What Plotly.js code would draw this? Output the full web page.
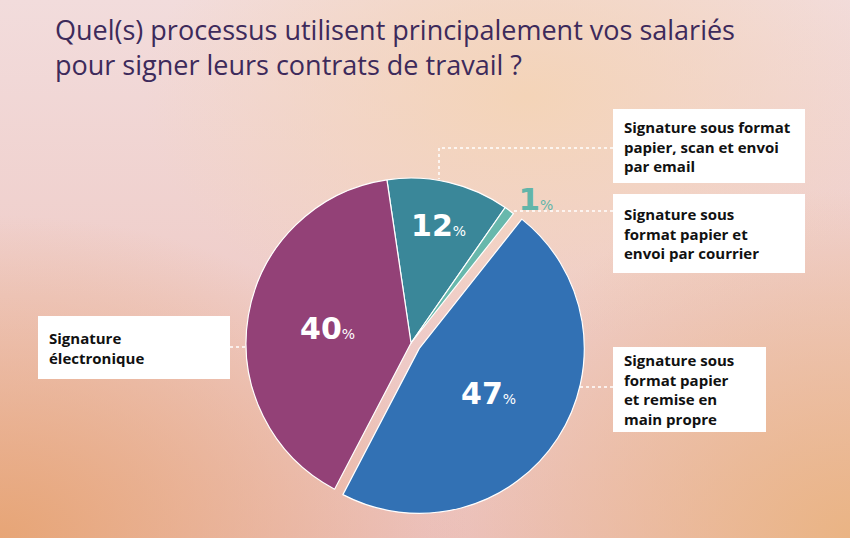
<!DOCTYPE html>
<html>
<head>
<meta charset="utf-8">
<script src="https://cdn.plot.ly/plotly-3.0.1.min.js"></script>
<style>
  html, body { margin: 0; padding: 0; }
  body {
    width: 850px; height: 538px; overflow: hidden;
    background:
      radial-gradient(ellipse 55% 60% at 0% 100%, rgba(231,165,118,1) 0%, rgba(231,165,118,0) 100%),
      radial-gradient(ellipse 50% 65% at 100% 100%, rgba(234,180,132,1) 0%, rgba(234,180,132,0) 100%),
      radial-gradient(ellipse 45% 45% at 62% 18%, rgba(244,212,184,1) 0%, rgba(244,212,184,0) 100%),
      linear-gradient(180deg, #f2dcdc 0%, #efcdc9 55%, #ecc2bf 100%);
  }
  #chart { width: 850px; height: 538px; }
</style>
</head>
<body>
<div id="chart"></div>
<script>
// ---- data ----
const categories = [
  "Signature sous format papier, scan et envoi par email",
  "Signature sous format papier et envoi par courrier",
  "Signature sous format papier et remise en main propre",
  "Signature électronique"
];
const values = [12, 1, 47, 40];
const boxLabels = [
  "Signature sous format<br>papier, scan et envoi<br>par email",
  "Signature sous<br>format papier et<br>envoi par courrier",
  "Signature sous<br>format papier<br>et remise en<br>main propre",
  "Signature<br>électronique"
];
const sliceColors = ["#3a8799", "#68b8ac", "#3271b4", "#934177"];
const pulls = [0, 0, 0.06, 0];
const textPositions = ["inside", "outside", "inside", "inside"];

// ---- helpers (pixel -> paper, margins are zero) ----
const W = 850, H = 538;
const px = x => x / W;
const py = y => 1 - y / H;

const pctFont = "'DejaVu Sans', 'Open Sans', sans-serif";
const labelFont = "'Open Sans', Lato, sans-serif";

const trace = {
  type: "pie",
  labels: categories,
  values: values,
  sort: false,
  direction: "clockwise",
  rotation: -8.4,
  pull: pulls,
  marker: { colors: sliceColors, line: { color: "#ffffff", width: 1.2 } },
  domain: { x: [0.2778, 0.6893], y: [0.0374, 0.6875] },
  texttemplate: '%{value}<span style="font-size:14px;font-weight:400">%</span>',
  textposition: textPositions,
  insidetextorientation: "horizontal",
  insidetextfont: { family: pctFont, size: 30, color: "#ffffff", weight: 700 },
  outsidetextfont: { family: pctFont, size: 31, color: "#62b5a9", weight: 700 },
  hoverinfo: "none",
  showlegend: false
};

// label boxes [x0, y0, x1, y1] in pixels, and text anchor
const boxes = [
  [613, 109, 805, 183],
  [613, 194, 805, 273],
  [613, 347, 766, 432],
  [38, 316, 230, 379]
];
const textX = [622, 622, 622, 47];

const shapes = [];
const annotations = [];
boxes.forEach((b, i) => {
  shapes.push({
    type: "rect", xref: "paper", yref: "paper",
    x0: px(b[0]), x1: px(b[2]), y0: py(b[1]), y1: py(b[3]),
    fillcolor: "#ffffff", line: { width: 0 }, layer: "above"
  });
  annotations.push({
    xref: "paper", yref: "paper",
    x: px(textX[i]), y: py((b[1] + b[3]) / 2),
    xanchor: "left", yanchor: "middle", align: "left",
    showarrow: false,
    text: boxLabels[i],
    font: { family: labelFont, size: 15, color: "#111111", weight: 700 }
  });
});

// dotted leader lines (pixel paths)
const leaders = [
  [[613, 148], [439, 148], [439, 179]],
  [[613, 211], [513, 211]],
  [[580, 387], [613, 387]],
  [[230, 347], [246, 347]]
];
leaders.forEach(pts => {
  for (let k = 0; k < pts.length - 1; k++) {
    shapes.push({
      type: "line", xref: "paper", yref: "paper",
      x0: px(pts[k][0]), y0: py(pts[k][1]), x1: px(pts[k + 1][0]), y1: py(pts[k + 1][1]),
      line: { color: "#ffffff", width: 1.5, dash: "dot" }, layer: "above"
    });
  }
});

const layout = {
  width: W, height: H,
  margin: { l: 0, r: 0, t: 0, b: 0 },
  paper_bgcolor: "rgba(0,0,0,0)",
  plot_bgcolor: "rgba(0,0,0,0)",
  title: {
    text: "Quel(s) processus utilisent principalement vos salariés<br>pour signer leurs contrats de travail ?",
    xref: "container", x: 55 / W, xanchor: "left",
    yref: "container", y: 1 - 40 / H, yanchor: "top",
    font: { family: "'Open Sans', Lato, sans-serif", size: 27, color: "#3d2a5b" }
  },
  shapes: shapes,
  annotations: annotations,
  showlegend: false
};

Plotly.newPlot("chart", [trace], layout, { displayModeBar: false, staticPlot: true });
</script>
</body>
</html>
